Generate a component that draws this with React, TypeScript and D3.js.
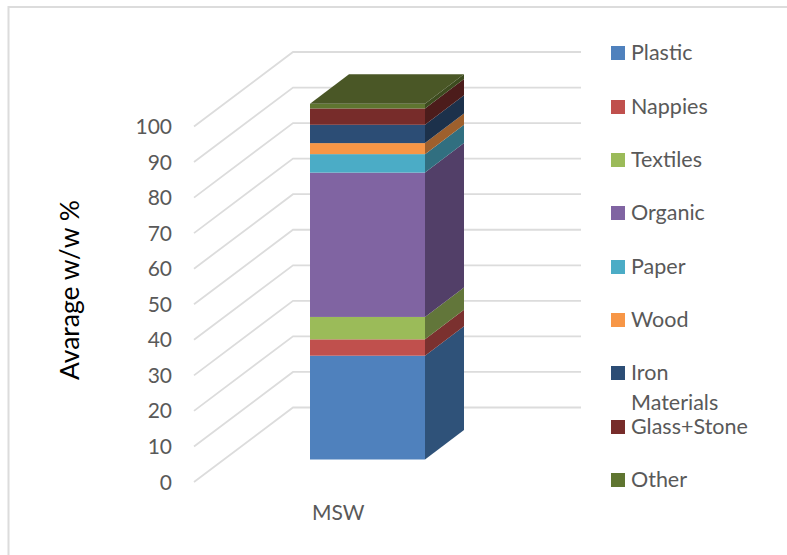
import React from "react";
import * as d3 from "d3";

const categoryLabel = "MSW";
const seriesNames = ["Plastic", "Nappies", "Textiles", "Organic", "Paper", "Wood", "Iron", "Glass+Stone", "Other"];
const seriesValues = [29.2, 4.6, 6.3, 40.6, 5.2, 3.1, 5.15, 4.6, 1.3];
const frontColors = ["#4f81bd", "#c0504d", "#9bbb59", "#8064a2", "#4bacc6", "#f79646", "#2c4d75", "#772c2a", "#5f7530"];
const sideColors = ["#2f5279", "#7b312f", "#62763a", "#523f68", "#316f80", "#9e602d", "#1c314b", "#4c1c1b", "#3d4b1f"];
const topColor = "#4a5726";
const tickValues = d3.range(0, 101, 10);
const legendRows = [53, 107, 160, 213, 267, 320, 373, 427, 480];

const FONT = "Lato, sans-serif";
const TEXT = "#595959";
const GRID = "#dcdcdc";

// Depth of the plot box and of the column, as screen offsets.
const wallDx = 99;
const wallDy = -74.5;
const barDx = 39;
const barDy = -29.5;

export default function App() {
  const y = d3.scaleLinear().domain([0, 100]).range([482, 126.5]);
  const barBase = 459.5;
  const unit = y(0) - y(1);
  const barLeft = 310;
  const barRight = 425;

  let running = 0;
  const stack = seriesValues.map((v) => {
    const y0 = barBase - running * unit;
    running += v;
    return { y0, y1: barBase - running * unit };
  });
  const topY = stack[stack.length - 1].y1;

  return (
    <svg width={787} height={555} style={{ position: "absolute", left: 0, top: 0, background: "#fff" }} fontFamily={FONT}>
      <rect x={8.5} y={7} width={800} height={600} fill="none" stroke={GRID} strokeWidth={2} />
      {tickValues.map((t) => (
        <g key={t}>
          <path
            d={`M194,${y(t)}L${194 + wallDx},${y(t) + wallDy}H581`}
            fill="none"
            stroke={GRID}
            strokeWidth={1.8}
          />
          <text x={172} y={y(t) + 7.5} textAnchor="end" fontSize={21} fill={TEXT}>{t}</text>
        </g>
      ))}
      {stack.map((s, i) => (
        <g key={seriesNames[i]}>
          <path
            d={`M${barRight},${s.y0}L${barRight + barDx},${s.y0 + barDy}V${s.y1 + barDy}L${barRight},${s.y1}Z`}
            fill={sideColors[i]}
          />
          <rect x={barLeft} y={s.y1} width={barRight - barLeft} height={s.y0 - s.y1} fill={frontColors[i]} />
        </g>
      ))}
      <path
        d={`M${barLeft},${topY}L${barLeft + barDx},${topY + barDy}H${barRight + barDx}L${barRight},${topY}Z`}
        fill={topColor}
      />
      <text
        transform="translate(79,290) rotate(-90)"
        textAnchor="middle"
        fontSize={26.5}
        fill="#000"
      >
        Avarage w/w %
      </text>
      <text x={312} y={520} fontSize={21} fill={TEXT}>{categoryLabel}</text>
      {seriesNames.map((name, i) => (
        <g key={name}>
          <rect x={611} y={legendRows[i] - 7} width={14} height={14} fill={frontColors[i]} />
          {name === "Glass+Stone" ? (
            <>
              <text x={631} y={legendRows[i] - 17} fontSize={21.5} fill={TEXT}>Materials</text>
              <text x={631} y={legendRows[i] + 7} fontSize={21.5} fill={TEXT}>{name}</text>
            </>
          ) : (
            <text x={631} y={legendRows[i] + 7} fontSize={21.5} fill={TEXT}>{name}</text>
          )}
        </g>
      ))}
    </svg>
  );
}
